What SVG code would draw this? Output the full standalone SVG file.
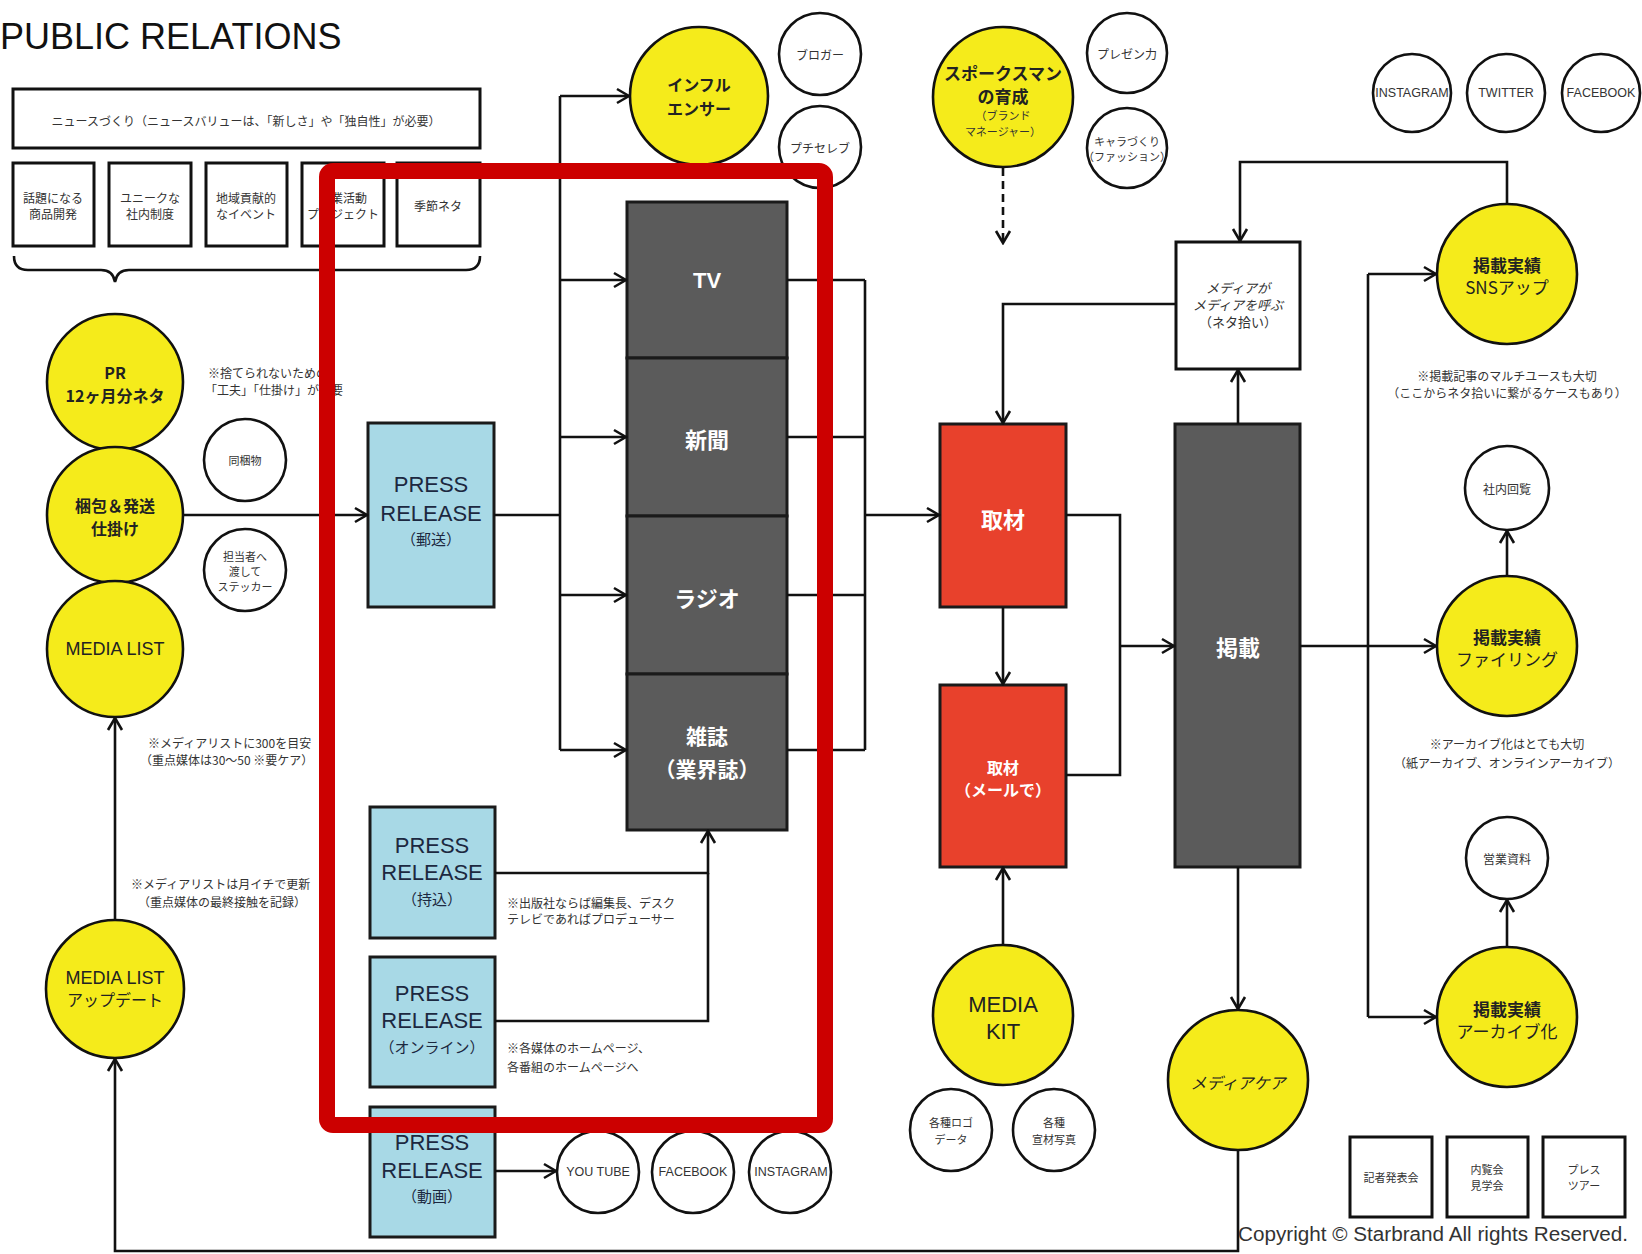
<svg xmlns="http://www.w3.org/2000/svg" width="1642" height="1254" viewBox="0 0 1642 1254">
<defs>
<marker id="arr" markerWidth="16" markerHeight="18" refX="14" refY="9" orient="auto" markerUnits="userSpaceOnUse"><path d="M2,2 L14,9 L2,16" fill="none" stroke="#111" stroke-width="2.6"/></marker>
<style>
.ln{fill:none;stroke:#111;stroke-width:2.6}
.da{fill:none;stroke:#111;stroke-width:2.6;stroke-dasharray:8 5}
.ya{fill:#f5eb1b;stroke:#111;stroke-width:2.6}
.wc{fill:#fff;stroke:#111;stroke-width:2.6}
.pr{fill:#a8d9e6;stroke:#1a1a1a;stroke-width:3}
.gb{fill:#5b5b5b;stroke:#1a1a1a;stroke-width:3}
.rb{fill:#e8412c;stroke:#1a1a1a;stroke-width:3}
.wb{fill:#fff;stroke:#111;stroke-width:3}
.hl{fill:none;stroke:#cc0000;stroke-width:16}
text{font-family:"Liberation Sans","Noto Sans CJK JP",sans-serif;text-anchor:middle;dominant-baseline:central;fill:#222}
.jp{font-family:"Noto Sans CJK JP",sans-serif}
.yt{font-size:16px;font-weight:bold;fill:#222}
.yl{font-size:18px;fill:#222}
.sm{font-size:12px;fill:#333}
.xs{font-size:11px;fill:#333}
.an{font-size:12px;fill:#333;text-anchor:start}
.anc{font-size:12px;fill:#333}
.prt{font-size:22px;fill:#1c2840}
.prs{font-size:15px;fill:#1c2840}
.wt{font-size:22px;font-weight:bold;fill:#fff}
.wts{font-size:16px;font-weight:bold;fill:#fff}
</style>
</defs>

<rect width="1642" height="1254" fill="#fff"/>

<g id="title"><text x="0" y="36" style="font-size:36px;text-anchor:start;fill:#111">PUBLIC RELATIONS</text></g>

<g id="news-box"><rect class="wb" x="13" y="89" width="467" height="59"/><text class="jp sm" x="246" y="120">ニュースづくり（ニュースバリューは、「新しさ」や「独自性」が必要）</text></g>
<g id="topic1"><rect class="wb" x="13" y="163" width="81" height="83"/><text class="jp sm" x="53" y="197">話題になる</text><text class="jp sm" x="53" y="213">商品開発</text></g>
<g id="topic2"><rect class="wb" x="109" y="163" width="82" height="83"/><text class="jp sm" x="150" y="197">ユニークな</text><text class="jp sm" x="150" y="213">社内制度</text></g>
<g id="topic3"><rect class="wb" x="206" y="163" width="81" height="83"/><text class="jp sm" x="246" y="197">地域貢献的</text><text class="jp sm" x="246" y="213">なイベント</text></g>
<g id="topic4"><rect class="wb" x="302" y="163" width="82" height="83"/><text class="jp sm" x="343" y="197">企業活動</text><text class="jp sm" x="343" y="213">プロジェクト</text></g>
<g id="topic5"><rect class="wb" x="397" y="163" width="83" height="83"/><text class="jp sm" x="438" y="205">季節ネタ</text></g>
<g id="brace"><path class="ln" d="M14,256 Q14,270 28,270 H101 Q113,270 115,282 Q117,270 129,270 H466 Q480,270 480,256"/></g>

<g id="pr12"><circle class="ya" cx="115" cy="382" r="68"/><text class="jp yt" x="115" y="372">PR</text><text class="jp yt" x="115" y="395">12ヶ月分ネタ</text></g>
<g id="packing"><circle class="ya" cx="115" cy="515" r="68"/><text class="jp yt" x="115" y="505">梱包＆発送</text><text class="jp yt" x="115" y="528">仕掛け</text></g>
<g id="media-list"><circle class="ya" cx="115" cy="649" r="68"/><text class="yl" x="115" y="649">MEDIA LIST</text></g>
<g id="media-list-update"><circle class="ya" cx="115" cy="989" r="69"/><text class="yl" x="115" y="978">MEDIA LIST</text><text class="jp yt" x="115" y="999" style="font-weight:normal">アップデート</text></g>

<g id="note-packing"><text class="jp an" x="208" y="372">※捨てられないための</text><text class="jp an" x="205" y="389">「工夫」「仕掛け」が必要</text></g>
<g id="enclosure"><circle class="wc" cx="245" cy="460" r="41"/><text class="jp xs" x="245" y="460">同梱物</text></g>
<g id="sticker"><circle class="wc" cx="245" cy="570" r="41"/><text class="jp xs" x="245" y="556">担当者へ</text><text class="jp xs" x="245" y="571">渡して</text><text class="jp xs" x="245" y="586">ステッカー</text></g>
<g id="note-list1"><text class="jp an" x="148" y="742">※メディアリストに300を目安</text><text class="jp an" x="140" y="759">（重点媒体は30〜50 ※要ケア）</text></g>
<g id="note-list2"><text class="jp an" x="131" y="883">※メディアリストは月イチで更新</text><text class="jp an" x="138" y="901">（重点媒体の最終接触を記録）</text></g>

<g id="pr-mail"><rect class="pr" x="368" y="423" width="126" height="184"/><text class="prt" x="431" y="484">PRESS</text><text class="prt" x="431" y="513">RELEASE</text><text class="jp prs" x="431" y="538">（郵送）</text></g>
<g id="pr-carry"><rect class="pr" x="370" y="807" width="125" height="131"/><text class="prt" x="432" y="845">PRESS</text><text class="prt" x="432" y="872">RELEASE</text><text class="jp prs" x="432" y="898">（持込）</text></g>
<g id="pr-online"><rect class="pr" x="370" y="957" width="125" height="130"/><text class="prt" x="432" y="993">PRESS</text><text class="prt" x="432" y="1020">RELEASE</text><text class="jp prs" x="432" y="1046">（オンライン）</text></g>
<g id="pr-video"><rect class="pr" x="370" y="1107" width="125" height="130"/><text class="prt" x="432" y="1142">PRESS</text><text class="prt" x="432" y="1170">RELEASE</text><text class="jp prs" x="432" y="1195">（動画）</text></g>

<g id="note-carry"><text class="jp an" x="507" y="902">※出版社ならば編集長、デスク</text><text class="jp an" x="507" y="918">テレビであればプロデューサー</text></g>
<g id="note-online"><text class="jp an" x="507" y="1047">※各媒体のホームページ、</text><text class="jp an" x="507" y="1066">各番組のホームページへ</text></g>

<g id="youtube"><circle class="wc" cx="598" cy="1172" r="41"/><text class="sm" x="598" y="1172" style="font-size:12.5px">YOU TUBE</text></g>
<g id="facebook-b"><circle class="wc" cx="693" cy="1172" r="41"/><text class="sm" x="693" y="1172" style="font-size:12.5px">FACEBOOK</text></g>
<g id="instagram-b"><circle class="wc" cx="790" cy="1172" r="41"/><text class="sm" x="791" y="1172" style="font-size:12.5px">INSTAGRAM</text></g>

<g id="influencer"><circle class="ya" cx="699" cy="96" r="69"/><text class="jp yt" x="699" y="84" style="font-size:16px">インフル</text><text class="jp yt" x="699" y="108" style="font-size:16px">エンサー</text></g>
<g id="blogger"><circle class="wc" cx="820" cy="54" r="41"/><text class="jp sm" x="820" y="54">ブロガー</text></g>
<g id="petit-celeb"><circle class="wc" cx="820" cy="147" r="41"/><text class="jp sm" x="820" y="147">プチセレブ</text></g>

<g id="tv"><rect class="gb" x="627" y="202" width="160" height="156"/><text class="wt" x="707" y="280">TV</text></g>
<g id="newspaper"><rect class="gb" x="627" y="358" width="160" height="158"/><text class="jp wt" x="707" y="438">新聞</text></g>
<g id="radio"><rect class="gb" x="627" y="516" width="160" height="158"/><text class="jp wt" x="707" y="597">ラジオ</text></g>
<g id="magazine"><rect class="gb" x="627" y="674" width="160" height="156"/><text class="jp wt" x="707" y="735" style="font-size:21px">雑誌</text><text class="jp wt" x="707" y="768" style="font-size:21px">（業界誌）</text></g>

<g id="spokesman"><ellipse class="ya" cx="1003" cy="97" rx="70" ry="70"/><text class="jp yt" x="1003" y="72" style="font-size:17px">スポークスマン</text><text class="jp yt" x="1003" y="95" style="font-size:17px">の育成</text><text class="jp xs" x="1003" y="115">（ブランド</text><text class="jp xs" x="1003" y="131">マネージャー）</text></g>
<g id="presentation"><circle class="wc" cx="1127" cy="53" r="40"/><text class="jp sm" x="1127" y="53">プレゼン力</text></g>
<g id="character"><circle class="wc" cx="1127" cy="148" r="40"/><text class="jp xs" x="1127" y="141">キャラづくり</text><text class="jp xs" x="1127" y="156">（ファッション）</text></g>

<g id="interview"><rect class="rb" x="940" y="424" width="126" height="183"/><text class="jp wt" x="1003" y="518">取材</text></g>
<g id="interview-mail"><rect class="rb" x="940" y="685" width="126" height="182"/><text class="jp wts" x="1003" y="767">取材</text><text class="jp wts" x="1003" y="789">（メールで）</text></g>
<g id="media-kit"><circle class="ya" cx="1003" cy="1015" r="70"/><text class="yl" x="1003" y="1004" style="font-size:22px">MEDIA</text><text class="yl" x="1003" y="1031" style="font-size:22px">KIT</text></g>
<g id="logo-data"><circle class="wc" cx="951" cy="1130" r="41"/><text class="jp xs" x="951" y="1122">各種ロゴ</text><text class="jp xs" x="951" y="1139">データ</text></g>
<g id="photos"><circle class="wc" cx="1054" cy="1130" r="41"/><text class="jp xs" x="1054" y="1122">各種</text><text class="jp xs" x="1054" y="1139">宣材写真</text></g>

<g id="media-calls"><rect class="wb" x="1176" y="242" width="124" height="127"/><text class="jp sm" x="1238" y="287" style="font-style:italic;font-size:13px">メディアが</text><text class="jp sm" x="1238" y="304" style="font-style:italic;font-size:13px">メディアを呼ぶ</text><text class="jp sm" x="1238" y="321" style="font-size:13px">（ネタ拾い）</text></g>
<g id="published"><rect class="gb" x="1175" y="424" width="125" height="443"/><text class="jp wt" x="1238" y="646">掲載</text></g>
<g id="media-care"><circle class="ya" cx="1238" cy="1080" r="70"/><text class="jp yt" x="1238" y="1082" style="font-style:italic;font-weight:normal">メディアケア</text></g>

<g id="instagram-t"><circle class="wc" cx="1412" cy="93" r="39"/><text class="sm" x="1412" y="93" style="font-size:12.5px">INSTAGRAM</text></g>
<g id="twitter-t"><circle class="wc" cx="1506" cy="93" r="39"/><text class="sm" x="1506" y="93" style="font-size:12.5px">TWITTER</text></g>
<g id="facebook-t"><circle class="wc" cx="1601" cy="93" r="39"/><text class="sm" x="1601" y="93" style="font-size:12.5px">FACEBOOK</text></g>

<g id="sns-up"><circle class="ya" cx="1507" cy="274" r="70"/><text class="jp yt" x="1507" y="264" style="font-size:17px">掲載実績</text><text class="jp yt" x="1507" y="286" style="font-size:17px;font-weight:normal">SNSアップ</text></g>
<g id="note-multi"><text class="jp anc" x="1507" y="375">※掲載記事のマルチユースも大切</text><text class="jp anc" x="1507" y="392">（ここからネタ拾いに繋がるケースもあり）</text></g>
<g id="circulate"><circle class="wc" cx="1507" cy="488" r="42"/><text class="jp sm" x="1507" y="488">社内回覧</text></g>
<g id="filing"><circle class="ya" cx="1507" cy="646" r="70"/><text class="jp yt" x="1507" y="636" style="font-size:17px">掲載実績</text><text class="jp yt" x="1507" y="658" style="font-size:17px;font-weight:normal">ファイリング</text></g>
<g id="note-archive"><text class="jp anc" x="1507" y="743">※アーカイブ化はとても大切</text><text class="jp anc" x="1507" y="762">（紙アーカイブ、オンラインアーカイブ）</text></g>
<g id="sales"><circle class="wc" cx="1507" cy="858" r="41"/><text class="jp sm" x="1507" y="858">営業資料</text></g>
<g id="archive"><circle class="ya" cx="1507" cy="1017" r="70"/><text class="jp yt" x="1507" y="1008" style="font-size:17px">掲載実績</text><text class="jp yt" x="1507" y="1030" style="font-size:17px;font-weight:normal">アーカイブ化</text></g>

<g id="press-conf"><rect class="wb" x="1350" y="1137" width="82" height="80"/><text class="jp xs" x="1391" y="1177">記者発表会</text></g>
<g id="preview"><rect class="wb" x="1447" y="1137" width="81" height="80"/><text class="jp xs" x="1487" y="1169">内覧会</text><text class="jp xs" x="1487" y="1185">見学会</text></g>
<g id="press-tour"><rect class="wb" x="1543" y="1137" width="82" height="80"/><text class="jp xs" x="1584" y="1169">プレス</text><text class="jp xs" x="1584" y="1185">ツアー</text></g>

<g id="connectors">
<path class="ln" d="M184,515 H367" marker-end="url(#arr)"/>
<path class="ln" d="M494,515 H560"/>
<path class="ln" d="M560,96 V750"/>
<path class="ln" d="M560,96 H629" marker-end="url(#arr)"/>
<path class="ln" d="M560,280 H626" marker-end="url(#arr)"/>
<path class="ln" d="M560,437 H626" marker-end="url(#arr)"/>
<path class="ln" d="M560,595 H626" marker-end="url(#arr)"/>
<path class="ln" d="M560,750 H626" marker-end="url(#arr)"/>
<path class="ln" d="M787,280 H865 M787,437 H865 M787,595 H865 M787,750 H865 M865,280 V750"/>
<path class="ln" d="M865,515 H939" marker-end="url(#arr)"/>
<path class="ln" d="M495,873 H708 V831" marker-end="url(#arr)"/>
<path class="ln" d="M495,1021 H708 V873"/>
<path class="ln" d="M495,1171 H556" marker-end="url(#arr)"/>
<path class="ln" d="M1003,607 V684" marker-end="url(#arr)"/>
<path class="ln" d="M1066,515 H1120 V775 H1066"/>
<path class="ln" d="M1120,646 H1174" marker-end="url(#arr)"/>
<path class="ln" d="M1238,424 V370" marker-end="url(#arr)"/>
<path class="ln" d="M1176,304 H1003 V423" marker-end="url(#arr)"/>
<path class="ln" d="M1507,204 V162 H1240 V241" marker-end="url(#arr)"/>
<path class="ln" d="M1300,646 H1436" marker-end="url(#arr)"/>
<path class="ln" d="M1368,274 V1017"/>
<path class="ln" d="M1368,274 H1436" marker-end="url(#arr)"/>
<path class="ln" d="M1368,1017 H1436" marker-end="url(#arr)"/>
<path class="ln" d="M1507,576 V531" marker-end="url(#arr)"/>
<path class="ln" d="M1507,947 V900" marker-end="url(#arr)"/>
<path class="ln" d="M1003,945 V868" marker-end="url(#arr)"/>
<path class="ln" d="M1238,867 V1009" marker-end="url(#arr)"/>
<path class="ln" d="M1238,1150 V1251 H115 V1059" marker-end="url(#arr)"/>
<path class="ln" d="M115,921 V718" marker-end="url(#arr)"/>
<path class="da" d="M1003,168 V243" marker-end="url(#arr)"/>
</g>

<g id="highlight"><rect class="hl" x="327" y="171" width="498" height="954" rx="6"/></g>

<g id="copyright"><text x="1238" y="1234" textLength="390" lengthAdjust="spacingAndGlyphs" style="font-size:20px;text-anchor:start;fill:#333">Copyright  © Starbrand All rights Reserved.</text></g>
</svg>
